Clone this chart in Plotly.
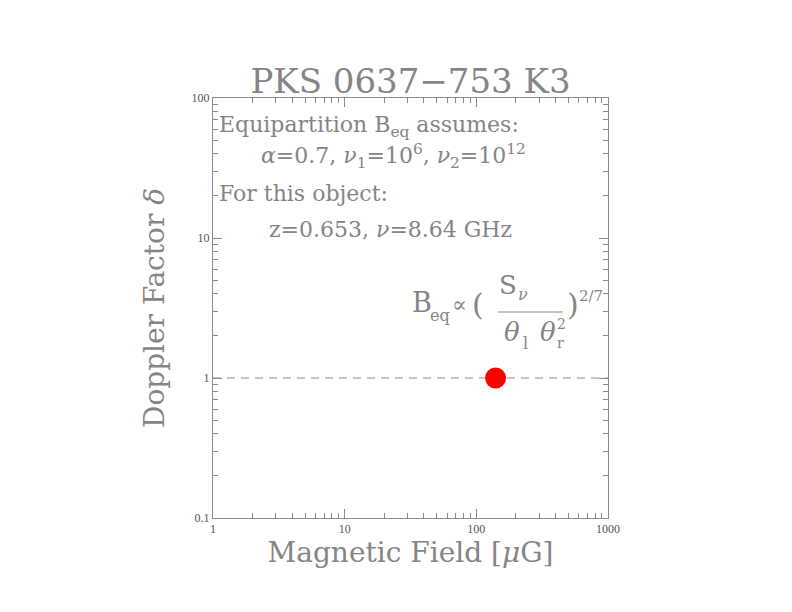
"""Doppler factor vs equipartition magnetic field for PKS 0637-753 K3."""

import plotly.graph_objects as go

# data
line_b_ug = [1, 1000]
line_delta = [1, 1]
knot_b_ug = [140]
knot_delta = [1.0]
x_tickvals = [1, 10, 100, 1000]
x_ticktext = ["1", "10", "100", "1000"]
y_tickvals = [0.1, 1, 10, 100]
y_ticktext = ["0.1", "1", "10", "100"]

_TEXT_GRAY = "#858585"
_AXIS_GRAY = "#8a8a8a"
_SERIF = "DejaVu Serif, Liberation Serif, serif"
_W, _H = 792, 612
# target plot box in screen pixels
_X0, _X1, _Y0, _Y1 = 213, 608, 98, 518
# the page body adds a small offset around the figure
_PAGE_OFFSET = 8


def _px(x):
    return (x - _X0) / (_X1 - _X0)


def _py(y):
    return (_Y1 - y) / (_Y1 - _Y0)


def _note(text, x, y, size, anchor="left"):
    return dict(
        text=text,
        x=_px(x),
        y=_py(y),
        xref="paper",
        yref="paper",
        xanchor=anchor,
        yanchor="middle",
        showarrow=False,
        font=dict(family=_SERIF, size=size, color=_TEXT_GRAY),
    )


fig = go.Figure()
fig.add_trace(
    go.Scatter(
        x=line_b_ug,
        y=line_delta,
        mode="lines",
        line=dict(color="#8c8c8c", width=1.2, dash="8px,6px"),
        showlegend=False,
    )
)
fig.add_trace(
    go.Scatter(
        x=knot_b_ug,
        y=knot_delta,
        mode="markers",
        marker=dict(color="#ff0000", size=21, line=dict(width=0)),
        showlegend=False,
    )
)

axis_common = dict(
    type="log",
    showgrid=False,
    zeroline=False,
    showline=True,
    linecolor=_AXIS_GRAY,
    linewidth=1,
    mirror="ticks",
    ticks="inside",
    ticklen=9,
    tickcolor=_AXIS_GRAY,
    tickfont=dict(family="Liberation Serif, serif", size=12, color="#555555"),
    minor=dict(ticks="inside", ticklen=5, tickcolor=_AXIS_GRAY, dtick="D1", showgrid=False),
)

fig.update_xaxes(
    **axis_common,
    range=[0, 3],
    tickvals=x_tickvals,
    ticktext=x_ticktext,
    title=dict(
        text="Magnetic Field [<i>μ</i>G]",
        font=dict(family=_SERIF, size=28, color=_TEXT_GRAY),
        standoff=2,
    ),
)
fig.update_yaxes(
    **axis_common,
    range=[-1, 2],
    tickvals=y_tickvals,
    ticktext=y_ticktext,
    title=dict(
        text="Doppler Factor <i>δ</i>",
        font=dict(family=_SERIF, size=28, color=_TEXT_GRAY),
        standoff=18,
    ),
)

annotations = [
    _note("Equipartition B<sub>eq</sub> assumes:", 217, 127, 22),
    _note(
        "<i>α</i>=0.7, <i>ν</i><sub>1</sub>=10<sup>6</sup>, "
        "<i>ν</i><sub>2</sub>=10<sup>12</sup>",
        259, 156, 22,
    ),
    _note("For this object:", 217, 193, 22),
    _note("z=0.653, <i>ν</i>=8.64 GHz", 267, 229, 22),
    # equipartition scaling, drawn piece by piece
    _note("B", 410, 302, 27),
    _note("eq", 428, 315, 16),
    _note("∝", 450, 304, 22),
    _note("(", 470, 304, 30),
    _note("S", 497, 285, 26),
    _note("<i>ν</i>", 516, 294, 16),
    _note("<i>θ</i>", 502, 332, 26),
    _note("l", 521, 343, 16),
    _note("<i>θ</i>", 538, 332, 26),
    _note("2", 555, 324, 14),
    _note("r", 555, 343, 14),
    _note(")", 565, 304, 30),
    _note("2/7", 577, 296, 15),
]

fig.update_layout(
    width=_W,
    height=_H,
    margin=dict(
        l=_X0 - _PAGE_OFFSET,
        r=_W - _X1 + _PAGE_OFFSET,
        t=_Y0 - _PAGE_OFFSET,
        b=_H - _Y1 + _PAGE_OFFSET,
    ),
    paper_bgcolor="white",
    plot_bgcolor="white",
    title=dict(
        text="PKS 0637−753 K3",
        x=((_X0 + _X1) / 2 - _PAGE_OFFSET) / _W,
        xanchor="center",
        y=1 - (81 - _PAGE_OFFSET) / _H,
        yanchor="middle",
        font=dict(family=_SERIF, size=34, color=_TEXT_GRAY),
    ),
    annotations=annotations,
    shapes=[
        dict(
            type="line",
            xref="paper",
            yref="paper",
            x0=_px(498),
            x1=_px(563),
            y0=_py(312),
            y1=_py(312),
            line=dict(color=_TEXT_GRAY, width=1),
        )
    ],
    showlegend=False,
)

fig.write_html("out.html")
